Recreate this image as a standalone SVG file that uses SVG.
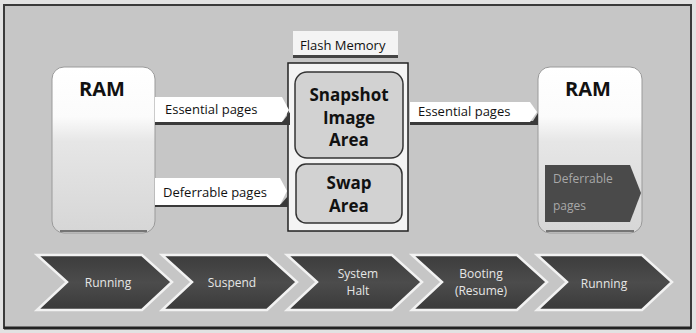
<svg xmlns="http://www.w3.org/2000/svg" width="696" height="333" viewBox="0 0 696 333">
  <defs>
    <linearGradient id="ramFill" x1="0" y1="0" x2="0" y2="1">
      <stop offset="0" stop-color="#ffffff"/>
      <stop offset="0.3" stop-color="#fbfbfb"/>
      <stop offset="0.45" stop-color="#e6e6e6"/>
      <stop offset="1" stop-color="#d6d6d6"/>
    </linearGradient>
    <linearGradient id="stepFill" x1="0" y1="0" x2="0" y2="1">
      <stop offset="0" stop-color="#3c3c3c"/>
      <stop offset="0.5" stop-color="#4c4c4c"/>
      <stop offset="1" stop-color="#3a3a3a"/>
    </linearGradient>
    <style>
      .ram { fill: url(#ramFill); stroke: #9a9a9a; stroke-width: 1; }
      .ramTitle { font-family: "Open Sans", "DejaVu Sans", sans-serif; font-weight: bold; font-size: 20px; fill: #111; text-anchor: middle; }
      .label { fill: #ffffff; }
      .labelShadow { fill: #3a3a3a; }
      .labelText { font-family: "Open Sans", "DejaVu Sans", sans-serif; font-size: 13px; fill: #111; }
      .flash { fill: #f4f4f4; stroke: #222; stroke-width: 1.5; }
      .area { fill: #d2d2d2; stroke: #333; stroke-width: 1.5; }
      .areaText { font-family: "Open Sans", "DejaVu Sans", sans-serif; font-weight: bold; font-size: 17px; fill: #111; text-anchor: middle; }
      .step { fill: url(#stepFill); stroke: #f2f2f2; stroke-width: 2.5; stroke-linejoin: miter; }
      .stepText { font-family: "Open Sans", "DejaVu Sans", sans-serif; font-size: 12px; fill: #e6e6e6; text-anchor: middle; }
      .deferBox { fill: #4a4a4a; }
      .deferText { font-family: "Open Sans", "DejaVu Sans", sans-serif; font-size: 12px; fill: #a8a8a8; }
    </style>
  </defs>

  <!-- frame and backdrop -->
  <rect x="0" y="0" width="696" height="333" fill="#e2e2e2"/>
  <rect x="4" y="5" width="687" height="323" fill="#c6c6c6" stroke="#3a3a3a" stroke-width="2"/>
  <line x1="4" y1="328" x2="691" y2="328" stroke="#222" stroke-width="3"/>

  <!-- left RAM -->
  <g id="ram-left">
    <rect class="ram" x="52" y="67" width="103" height="166" rx="12"/>
    <line x1="60" y1="231" x2="147" y2="231" stroke="#555" stroke-width="1.5"/>
    <text class="ramTitle" x="102" y="96">RAM</text>
  </g>

  <!-- flash memory -->
  <g id="flash-memory">
    <rect x="293" y="31" width="105" height="26" fill="#f4f4f4"/>
    <rect x="293" y="55" width="105" height="3" fill="#444"/>
    <text class="labelText" x="300" y="50">Flash Memory</text>
    <rect class="flash" x="288" y="63" width="120" height="168"/>
  </g>
  <g id="snapshot-area">
    <rect class="area" x="295" y="72" width="108" height="86" rx="12"/>
    <text class="areaText" x="349" y="101">Snapshot</text>
    <text class="areaText" x="349" y="124">Image</text>
    <text class="areaText" x="349" y="146">Area</text>
  </g>
  <g id="swap-area">
    <rect class="area" x="296" y="164" width="106" height="59" rx="10"/>
    <text class="areaText" x="349" y="189">Swap</text>
    <text class="areaText" x="349" y="212">Area</text>
  </g>

  <!-- right RAM -->
  <g id="ram-right">
    <rect class="ram" x="538" y="67" width="104" height="166" rx="12"/>
    <line x1="546" y1="231" x2="634" y2="231" stroke="#555" stroke-width="1.5"/>
    <text class="ramTitle" x="588" y="96">RAM</text>
    <polygon class="deferBox" points="545,165 630,165 641,193 630,222 545,222"/>
    <text class="deferText" x="553" y="183">Deferrable</text>
    <text class="deferText" x="553" y="210">pages</text>
  </g>

  <!-- page flows -->
  <g id="connectors">
    <g id="essential-in">
      <polygon class="labelShadow" points="155,121 283,121 290,112 290,125 155,125"/>
      <polygon class="label" points="155,97 282,97 289,110 282,122 155,122"/>
      <text class="labelText" x="165" y="114">Essential pages</text>
    </g>
    <g id="deferrable-in">
      <polygon class="labelShadow" points="155,204 281,204 288,196 288,207 155,207"/>
      <polygon class="label" points="155,178 280,178 287,191 280,205 155,205"/>
      <text class="labelText" x="163" y="197">Deferrable pages</text>
    </g>
    <g id="essential-out">
      <polygon class="labelShadow" points="410,121 533,121 538,113 538,125 410,125"/>
      <polygon class="label" points="410,102 530,102 537,112 530,122 410,122"/>
      <text class="labelText" x="418" y="116">Essential pages</text>
    </g>
  </g>

  <!-- lifecycle steps -->
  <g id="step-running-1">
    <polygon class="step" points="37,255 142,255 172,282 142,310 37,310 67,282"/>
    <text class="stepText" x="108" y="287">Running</text>
  </g>
  <g id="step-suspend">
    <polygon class="step" points="162,255 267,255 297,282 267,310 162,310 192,282"/>
    <text class="stepText" x="232" y="287">Suspend</text>
  </g>
  <g id="step-halt">
    <polygon class="step" points="287,255 392,255 422,282 392,310 287,310 317,282"/>
    <text class="stepText" x="358" y="278">System</text>
    <text class="stepText" x="358" y="295">Halt</text>
  </g>
  <g id="step-booting">
    <polygon class="step" points="412,255 517,255 547,282 517,310 412,310 442,282"/>
    <text class="stepText" x="481" y="278">Booting</text>
    <text class="stepText" x="481" y="295">(Resume)</text>
  </g>
  <g id="step-running-2">
    <polygon class="step" points="537,255 642,255 672,282 642,310 537,310 567,282"/>
    <text class="stepText" x="604" y="288">Running</text>
  </g>
</svg>
